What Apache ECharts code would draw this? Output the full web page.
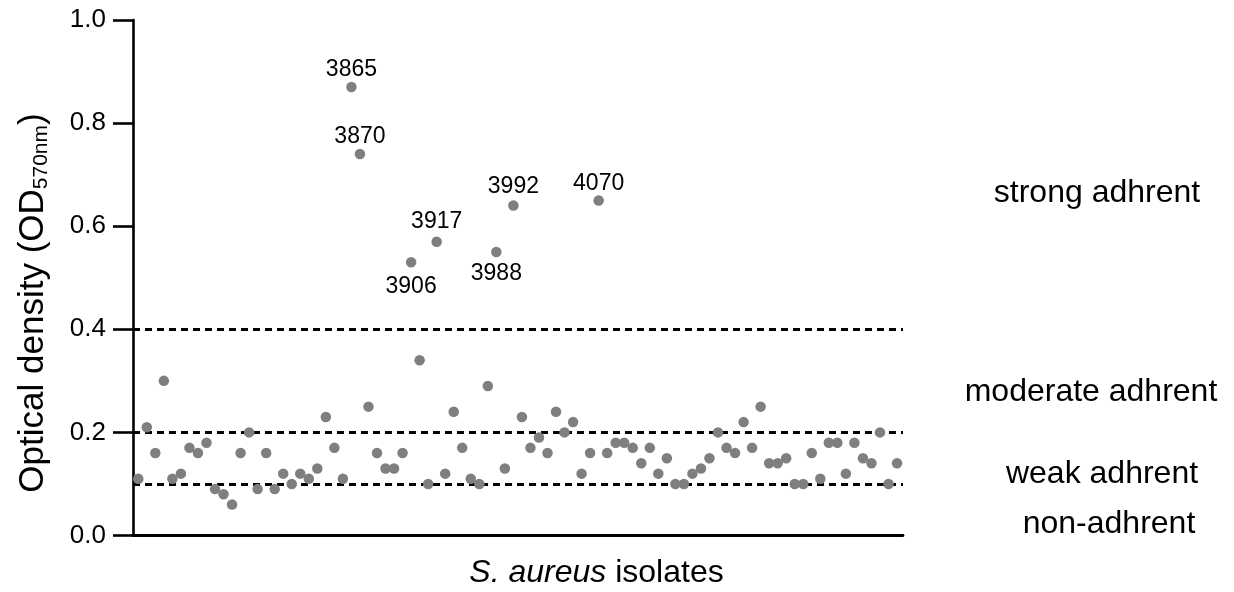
<!DOCTYPE html>
<html>
<head>
<meta charset="utf-8">
<script src="https://cdn.jsdelivr.net/npm/echarts@6/dist/echarts.min.js"></script>
<style>html,body{margin:0;padding:0;background:#fff}#c{width:1234px;height:592px}</style>
</head>
<body>
<div id="c"></div>
<script>
// Optical density of each S. aureus isolate, in plotted order
const odValues = [
  0.11, 0.21, 0.16, 0.30, 0.11, 0.12, 0.17, 0.16, 0.18, 0.09, 0.08, 0.06, 0.16, 0.20, 0.09, 0.16, 0.09, 0.12, 0.10, 0.12, 0.11, 0.13,
  0.23, 0.17, 0.11, 0.87, 0.74, 0.25, 0.16, 0.13, 0.13, 0.16, 0.53, 0.34, 0.10, 0.57, 0.12, 0.24, 0.17, 0.11, 0.10, 0.29, 0.55, 0.13, 0.64,
  0.23, 0.17, 0.19, 0.16, 0.24, 0.20, 0.22, 0.12, 0.16, 0.65, 0.16, 0.18, 0.18, 0.17, 0.14, 0.17, 0.12, 0.15, 0.10, 0.10, 0.12, 0.13,
  0.15, 0.20, 0.17, 0.16, 0.22, 0.17, 0.25, 0.14, 0.14, 0.15, 0.10, 0.10, 0.16, 0.11, 0.18, 0.18, 0.12, 0.18, 0.15, 0.14, 0.20, 0.10, 0.14
];
// labelled strong adherent isolates
const labelIndex = [25, 26, 32, 35, 42, 44, 54];
const labelText  = ['3865', '3870', '3906', '3917', '3988', '3992', '4070'];
const labelSide  = ['top', 'top', 'bottom', 'top', 'bottom', 'top', 'top'];
const labelDist  = [1, 1, 8, 3, 5, 2, 0];
// thresholds
const thresholds = [0.1, 0.2, 0.4];
const categoryNames = ['strong adhrent', 'moderate adhrent', 'weak adhrent', 'non-adhrent'];

const FONT = '"Liberation Sans", Arial, Helvetica, sans-serif';

const data = odValues.map((v, i) => {
  const k = labelIndex.indexOf(i);
  const item = { value: [i, v] };
  if (k >= 0) {
    item.label = {
      show: true,
      formatter: labelText[k],
      position: labelSide[k],
      distance: labelDist[k],
      fontSize: 23,
      fontFamily: FONT,
      color: '#000',
      opacity: 1
    };
  }
  return item;
});

const chart = echarts.init(document.getElementById('c'), null, { renderer: 'canvas' });
chart.setOption({
  animation: false,
  backgroundColor: '#fff',
  grid: { left: 133, right: 331, top: 20, bottom: 56.5, containLabel: false },
  xAxis: {
    type: 'value',
    min: -0.62,
    max: 89.7,
    axisLine: { show: true, onZero: false, lineStyle: { color: '#000', width: 2.8 } },
    axisTick: { show: false },
    axisLabel: { show: false },
    splitLine: { show: false }
  },
  yAxis: {
    type: 'value',
    min: 0,
    max: 1,
    interval: 0.2,
    axisLine: { show: true, onZero: false, lineStyle: { color: '#000', width: 2.6 } },
    axisTick: { show: true, length: 20, lineStyle: { color: '#000', width: 2.6 } },
    axisLabel: {
      fontSize: 26, fontFamily: FONT, color: '#000', margin: 27,
      formatter: v => v.toFixed(1)
    },
    splitLine: { show: false }
  },
  series: [{
    type: 'scatter',
    data: data,
    symbol: 'circle',
    symbolSize: 10.5,
    itemStyle: { color: '#7f7f7f', opacity: 1 },
    z: 3,
    markLine: {
      silent: true,
      symbol: 'none',
      label: { show: false },
      lineStyle: { color: '#000', width: 2.8, type: [7, 5], opacity: 1 },
      data: thresholds.map(t => ({ yAxis: t })),
      z: 2
    }
  }],
  graphic: [
    {
      type: 'text', x: 33, y: 303, rotation: Math.PI / 2,
      style: {
        text: '{a|Optical density (OD}{b|570nm}{a|)}',
        align: 'center', verticalAlign: 'middle',
        rich: {
          a: { fontSize: 35, fontFamily: FONT, fill: '#000', lineHeight: 38 },
          b: { fontSize: 21, fontFamily: FONT, fill: '#000', lineHeight: 21, verticalAlign: 'bottom' }
        }
      }
    },
    {
      type: 'text', x: 596.5, y: 573.5,
      style: {
        text: '{i|S. aureus }{n|isolates}',
        align: 'center', verticalAlign: 'middle',
        rich: {
          i: { fontSize: 32, fontFamily: FONT, fontStyle: 'italic', fill: '#000' },
          n: { fontSize: 32, fontFamily: FONT, fill: '#000' }
        }
      }
    },
    { type: 'text', x: 1097, y: 193, style: { text: categoryNames[0], fontSize: 32, fontFamily: FONT, fill: '#000', align: 'center', verticalAlign: 'middle' } },
    { type: 'text', x: 1091, y: 392, style: { text: categoryNames[1], fontSize: 32, fontFamily: FONT, fill: '#000', align: 'center', verticalAlign: 'middle' } },
    { type: 'text', x: 1102, y: 474, style: { text: categoryNames[2], fontSize: 32, fontFamily: FONT, fill: '#000', align: 'center', verticalAlign: 'middle' } },
    { type: 'text', x: 1109, y: 524, style: { text: categoryNames[3], fontSize: 32, fontFamily: FONT, fill: '#000', align: 'center', verticalAlign: 'middle' } }
  ]
});
</script>
</body>
</html>
